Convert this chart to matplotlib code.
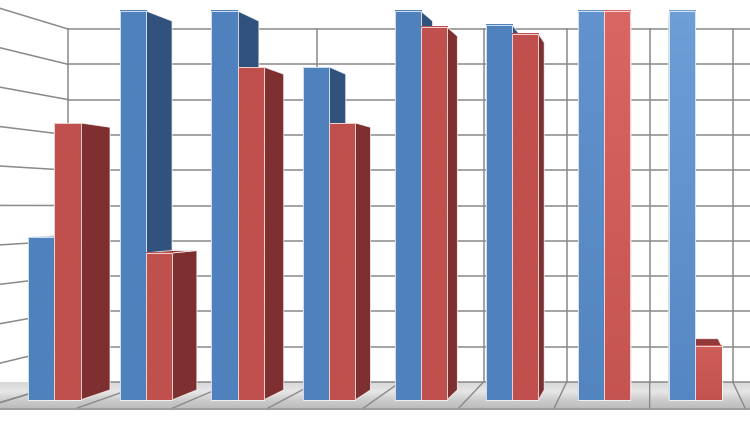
import numpy as np
import matplotlib.pyplot as plt
from matplotlib.patches import Polygon
from matplotlib.colors import to_rgb

# values (axis max = 10; taller bars are cut at the max)
groups = ["1", "2", "3", "4", "5", "6", "7", "8"]
blue_vals = [4.19, 10.0, 10.0, 8.56, 10.0, 9.64, 10.0, 10.0]
red_vals = [7.12, 3.78, 8.56, 7.12, 9.59, 9.41, 10.0, 1.39]
y_ticks = list(range(0, 11))
y_max = 10

# ── view (one-point perspective, pixel units) ───────────────────────────────
W, H = 750, 422
VP = (650.0, 206.0)            # vanishing point / eye
X0, DX = 68.0, 83.1            # back wall: left edge, px per category
Y0, DY = 382.0, 35.3           # back wall: floor line, px per unit
F_WALL, F_BAR_BACK, F_BAR_FRONT, F_FLOOR = 1.0, 1.045, 1.102, 1.148
BAR_W = 1 / 3.5                # gap width 150 %
N_WALL = len(groups) + 1       # chart runs on past the right edge

COLORS = {
    "blue": {"front": "#4F81BD", "light": "#8DBBF0",
             "side": "#30527D", "top": "#3F6AA0"},
    "red": {"front": "#C0504D", "light": "#F07C77",
            "side": "#7E3030", "top": "#923937"},
}
GRID = "#8A8A8A"


def proj(u, v, f):
    xb = X0 + DX * u
    yb = Y0 - DY * v
    return VP[0] + f * (xb - VP[0]), VP[1] + f * (yb - VP[1])


def poly(pts, **kw):
    return Polygon([proj(*p) for p in pts], closed=True, **kw)


def mix(c1, c2, a):
    c1, c2 = np.array(to_rgb(c1)), np.array(to_rgb(c2))
    return c1 + (c2 - c1) * a


fig = plt.figure(figsize=(W / 100, H / 100), dpi=100)
ax = fig.add_axes([0, 0, 1, 1])
ax.set_xlim(0, W)
ax.set_ylim(H, 0)
ax.axis("off")

# ── floor slab ──────────────────────────────────────────────────────────────
floor = poly([(-2, 0, F_WALL), (N_WALL + 1, 0, F_WALL),
              (N_WALL + 1, 0, F_FLOOR), (-2, 0, F_FLOOR)],
             facecolor="none", edgecolor="none")
ax.add_patch(floor)
yb = proj(0, 0, F_WALL)[1]
yf = proj(0, 0, F_FLOOR)[1]
t = np.linspace(0, 1, 64)
shade = np.interp(t, [0, 0.4, 0.7, 1], [0.84, 0.90, 0.80, 0.74])
img = np.repeat(shade[:, None], 2, axis=1)
im = ax.imshow(img, cmap="gray", vmin=0, vmax=1, aspect="auto",
               extent=(-200, W + 200, yf, yb), origin="upper",
               interpolation="bilinear", zorder=1)
im.set_clip_path(floor)
ax.add_patch(poly([(-2, 0, F_FLOOR), (N_WALL + 1, 0, F_FLOOR),
                   (N_WALL + 1, -0.06, F_FLOOR), (-2, -0.06, F_FLOOR)],
                  facecolor="#9E9E9E", edgecolor="none", zorder=1))

# ── walls and gridlines ─────────────────────────────────────────────────────
for v in y_ticks:
    xs, ys = zip(proj(0, v, F_WALL), proj(N_WALL + 1, v, F_WALL))
    ax.plot(xs, ys, color=GRID, lw=1.1, zorder=2)
    xs, ys = zip(proj(0, v, F_WALL), proj(0, v, 1.25))
    ax.plot(xs, ys, color=GRID, lw=1.1, zorder=2)
for u in range(N_WALL + 1):
    xs, ys = zip(proj(u, 0, F_WALL), proj(u, y_max, F_WALL))
    ax.plot(xs, ys, color=GRID, lw=1.1, zorder=2)
    xs, ys = zip(proj(u, 0, F_WALL), proj(u, 0, F_FLOOR))
    ax.plot(xs, ys, color=GRID, lw=1.0, zorder=2)

# ── bars ────────────────────────────────────────────────────────────────────
bars = []
for i in range(len(groups)):
    for s, (name, vals) in enumerate([("blue", blue_vals), ("red", red_vals)]):
        u0 = i + (1 - 2 * BAR_W) / 2 + s * BAR_W
        bars.append((u0, u0 + BAR_W, min(vals[i], y_max), name))

# paint far-from-the-eye bars first
bars.sort(key=lambda b: -abs(proj((b[0] + b[1]) / 2, 0, F_BAR_FRONT)[0] - VP[0]))

edge = dict(edgecolor=(1, 1, 1, 0.75), linewidth=0.7)
for z, (u0, u1, v, name) in enumerate(bars):
    col = COLORS[name]
    zo = 5 + z
    f0, f1 = F_BAR_BACK, F_BAR_FRONT
    if proj(u1, 0, f1)[0] < VP[0]:
        ax.add_patch(poly([(u1, 0, f1), (u1, 0, f0), (u1, v, f0), (u1, v, f1)],
                          facecolor=col["side"], zorder=zo, **edge))
    if proj(u0, 0, f1)[0] > VP[0]:
        ax.add_patch(poly([(u0, 0, f1), (u0, 0, f0), (u0, v, f0), (u0, v, f1)],
                          facecolor=col["side"], zorder=zo, **edge))
    if proj(0, v, 1)[1] > VP[1]:
        ax.add_patch(poly([(u0, v, f1), (u1, v, f1), (u1, v, f0), (u0, v, f0)],
                          facecolor=col["top"], zorder=zo, **edge))
    # front face, with a highlight for bars close to the eye
    x0, ytop = proj(u0, v, f1)
    x1, ybot = proj(u1, 0, f1)
    dist = abs((x0 + x1) / 2 - VP[0])
    amt = 0.75 * max(0.0, 1 - dist / 100)
    tt = np.linspace(0, 1, 64)[:, None]
    grad = (mix(col["front"], col["light"], amt) * (1 - tt)
            + mix(col["front"], col["light"], amt * 0.2) * tt)
    ax.imshow(grad[:, None, :].repeat(2, axis=1), aspect="auto",
              extent=(x0, x1, ybot, ytop), origin="upper",
              interpolation="bilinear", zorder=zo)
    ax.add_patch(poly([(u0, 0, f1), (u1, 0, f1), (u1, v, f1), (u0, v, f1)],
                      facecolor="none", zorder=zo + 0.5, **edge))

ax.set_xlim(0, W)
ax.set_ylim(H, 0)
fig.savefig("out.png", dpi=100)
